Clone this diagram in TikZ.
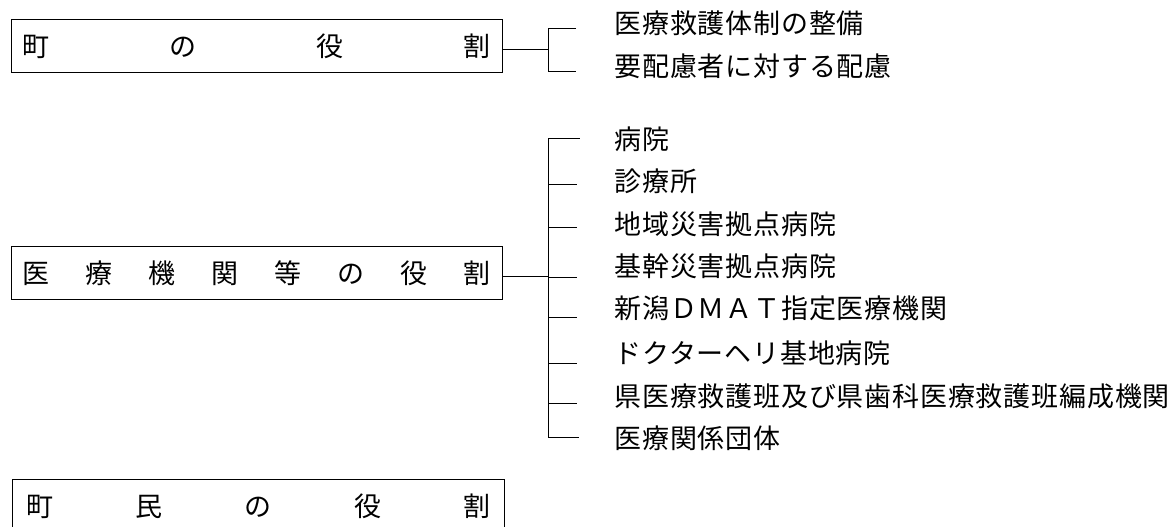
\documentclass[tikz,border=0pt]{standalone}
\usepackage{fontspec}
\newfontfamily\jp{Noto Sans CJK JP}[LetterSpace=3]
\begin{document}
\begin{tikzpicture}[x=1pt,y=-1pt,line width=0.9pt,
  rolebox/.style={draw,minimum width=491pt,minimum height=53pt,inner sep=0pt,anchor=north west,font=\jp\fontsize{27}{31}\selectfont},
  leaf/.style={anchor=west,inner sep=0pt,font=\jp\fontsize{27}{31}\selectfont},
  conn/.style={draw,line width=0.9pt}]
\useasboundingbox (0,0) rectangle (1175,527);
% boxes
\node[rolebox] (b1) at (11,19) {\makebox[468pt]{町\hfill の\hfill 役\hfill 割}};
\node[rolebox] (b2) at (11,246) {\makebox[468pt]{医\hfill 療\hfill 機\hfill 関\hfill 等\hfill の\hfill 役\hfill 割}};
\node[rolebox,minimum width=492pt] (b3) at (12,479) {\makebox[464pt]{町\hfill 民\hfill の\hfill 役\hfill 割}};
% top group
\coordinate (j1) at (548,49);
\coordinate (j1a) at (548,28);
\coordinate (j1b) at (548,71);
\coordinate (e1a) at (576,28);
\coordinate (e1b) at (576,71);
\node[leaf] (t1a) at (614,23) {医療救護体制の整備};
\node[leaf] (t1b) at (614,66) {要配慮者に対する配慮};
\draw[conn] (j1 -| b1.east) -- (j1);
\draw[conn] (e1a) -- (j1a) -- (j1b) -- (e1b);
% middle group
\coordinate (j2) at (548,276);
\draw[conn] (j2 -| b2.east) -- (j2);
\foreach \i/\yb/\yt/\xe/\txt in {
  1/138/139/580/病院,
  2/184/181/577/診療所,
  3/227/224/577/地域災害拠点病院,
  4/277/266/577/基幹災害拠点病院,
  5/317/308/577/新潟ＤＭＡＴ指定医療機関,
  6/363/353/577/ドクターヘリ基地病院,
  7/403/396/577/県医療救護班及び県歯科医療救護班編成機関,
  8/437/438/579/医療関係団体}{
  \coordinate (s\i) at (548,\yb);
  \coordinate (e\i) at (\xe,\yb);
  \node[leaf] (t\i) at (614,\yt) {\txt};
  \draw[conn] (s\i) -- (e\i);
}
\draw[conn] (s1) -- (s8);
\end{tikzpicture}
\end{document}
